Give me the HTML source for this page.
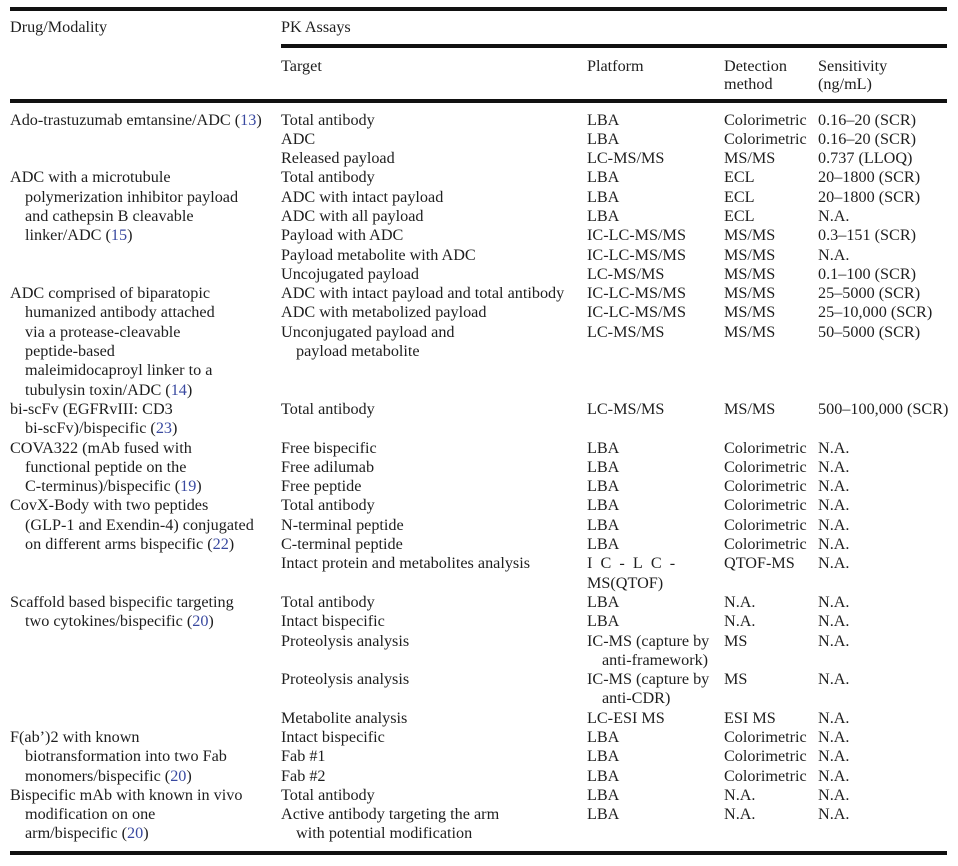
<!DOCTYPE html>
<html><head><meta charset="utf-8"><style>
html,body{margin:0;padding:0;background:#fff;}
body{width:958px;height:866px;position:relative;overflow:hidden;font-family:"Liberation Serif",serif;font-size:16.2px;color:#1e1e1e;}
.r{position:absolute;background:#111;height:4px;}
.c{position:absolute;top:110.5px;line-height:19.3px;white-space:nowrap;}
.c div{height:19.3px;line-height:19.3px;}
.h{position:absolute;line-height:18px;white-space:nowrap;}
.i{padding-left:15px;}
b{font-weight:normal;color:#3949a0;}
</style></head><body>
<div class="r" style="left:10px;width:937px;top:7px;"></div>
<div class="r" style="left:281px;width:666px;top:44px;"></div>
<div class="r" style="left:10px;width:937px;top:99px;"></div>
<div class="r" style="left:10px;width:937px;top:851px;"></div>

<div class="h" style="left:10px;top:18px;">Drug/Modality</div>
<div class="h" style="left:281px;top:18px;">PK Assays</div>
<div class="h" style="left:281px;top:57px;">Target</div>
<div class="h" style="left:587px;top:57px;">Platform</div>
<div class="h" style="left:724px;top:57px;">Detection<br>method</div>
<div class="h" style="left:818px;top:57px;">Sensitivity<br>(ng/mL)</div>

<div class="c" style="left:10px;"><div>Ado-trastuzumab emtansine/ADC (<b>13</b>)</div><div></div><div></div><div>ADC with a microtubule</div><div class="i">polymerization inhibitor payload</div><div class="i">and cathepsin B cleavable</div><div class="i">linker/ADC (<b>15</b>)</div><div></div><div></div><div>ADC comprised of biparatopic</div><div class="i">humanized antibody attached</div><div class="i">via a protease-cleavable</div><div class="i">peptide-based</div><div class="i">maleimidocaproyl linker to a</div><div class="i">tubulysin toxin/ADC (<b>14</b>)</div><div>bi-scFv (EGFRvIII: CD3</div><div class="i">bi-scFv)/bispecific (<b>23</b>)</div><div>COVA322 (mAb fused with</div><div class="i">functional peptide on the</div><div class="i">C-terminus)/bispecific (<b>19</b>)</div><div>CovX-Body with two peptides</div><div class="i">(GLP-1 and Exendin-4) conjugated</div><div class="i">on different arms bispecific (<b>22</b>)</div><div></div><div></div><div>Scaffold based bispecific targeting</div><div class="i">two cytokines/bispecific (<b>20</b>)</div><div></div><div></div><div></div><div></div><div></div><div>F(ab’)2 with known</div><div class="i">biotransformation into two Fab</div><div class="i">monomers/bispecific (<b>20</b>)</div><div>Bispecific mAb with known in vivo</div><div class="i">modification on one</div><div class="i">arm/bispecific (<b>20</b>)</div></div>

<div class="c" style="left:281px;"><div>Total antibody</div><div>ADC</div><div>Released payload</div><div>Total antibody</div><div>ADC with intact payload</div><div>ADC with all payload</div><div>Payload with ADC</div><div>Payload metabolite with ADC</div><div>Uncojugated payload</div><div>ADC with intact payload and total antibody</div><div>ADC with metabolized payload</div><div>Unconjugated payload and</div><div class="i">payload metabolite</div><div></div><div></div><div>Total antibody</div><div></div><div>Free bispecific</div><div>Free adilumab</div><div>Free peptide</div><div>Total antibody</div><div>N-terminal peptide</div><div>C-terminal peptide</div><div>Intact protein and metabolites analysis</div><div></div><div>Total antibody</div><div>Intact bispecific</div><div>Proteolysis analysis</div><div></div><div>Proteolysis analysis</div><div></div><div>Metabolite analysis</div><div>Intact bispecific</div><div>Fab #1</div><div>Fab #2</div><div>Total antibody</div><div>Active antibody targeting the arm</div><div class="i">with potential modification</div></div>

<div class="c" style="left:587px;"><div>LBA</div><div>LBA</div><div>LC-MS/MS</div><div>LBA</div><div>LBA</div><div>LBA</div><div>IC-LC-MS/MS</div><div>IC-LC-MS/MS</div><div>LC-MS/MS</div><div>IC-LC-MS/MS</div><div>IC-LC-MS/MS</div><div>LC-MS/MS</div><div></div><div></div><div></div><div>LC-MS/MS</div><div></div><div>LBA</div><div>LBA</div><div>LBA</div><div>LBA</div><div>LBA</div><div>LBA</div><div>I&nbsp;&nbsp;C&nbsp;&nbsp;-&nbsp;&nbsp;L&nbsp;&nbsp;C&nbsp;&nbsp;-</div><div>MS(QTOF)</div><div>LBA</div><div>LBA</div><div>IC-MS (capture by</div><div class="i">anti-framework)</div><div>IC-MS (capture by</div><div class="i">anti-CDR)</div><div>LC-ESI MS</div><div>LBA</div><div>LBA</div><div>LBA</div><div>LBA</div><div>LBA</div></div>

<div class="c" style="left:724px;"><div>Colorimetric</div><div>Colorimetric</div><div>MS/MS</div><div>ECL</div><div>ECL</div><div>ECL</div><div>MS/MS</div><div>MS/MS</div><div>MS/MS</div><div>MS/MS</div><div>MS/MS</div><div>MS/MS</div><div></div><div></div><div></div><div>MS/MS</div><div></div><div>Colorimetric</div><div>Colorimetric</div><div>Colorimetric</div><div>Colorimetric</div><div>Colorimetric</div><div>Colorimetric</div><div>QTOF-MS</div><div></div><div>N.A.</div><div>N.A.</div><div>MS</div><div></div><div>MS</div><div></div><div>ESI MS</div><div>Colorimetric</div><div>Colorimetric</div><div>Colorimetric</div><div>N.A.</div><div>N.A.</div></div>

<div class="c" style="left:818px;"><div>0.16–20 (SCR)</div><div>0.16–20 (SCR)</div><div>0.737 (LLOQ)</div><div>20–1800 (SCR)</div><div>20–1800 (SCR)</div><div>N.A.</div><div>0.3–151 (SCR)</div><div>N.A.</div><div>0.1–100 (SCR)</div><div>25–5000 (SCR)</div><div>25–10,000 (SCR)</div><div>50–5000 (SCR)</div><div></div><div></div><div></div><div>500–100,000 (SCR)</div><div></div><div>N.A.</div><div>N.A.</div><div>N.A.</div><div>N.A.</div><div>N.A.</div><div>N.A.</div><div>N.A.</div><div></div><div>N.A.</div><div>N.A.</div><div>N.A.</div><div></div><div>N.A.</div><div></div><div>N.A.</div><div>N.A.</div><div>N.A.</div><div>N.A.</div><div>N.A.</div><div>N.A.</div></div>
</body></html>
